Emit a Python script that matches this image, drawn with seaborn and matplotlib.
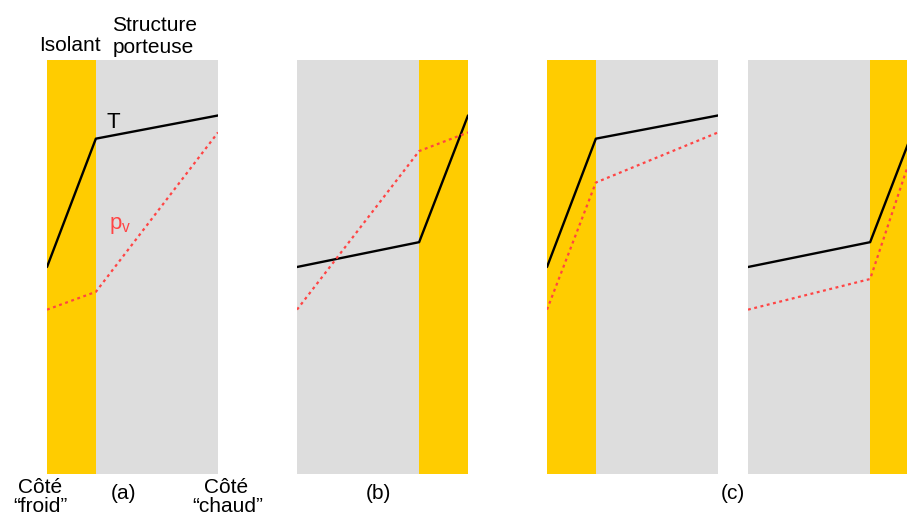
import matplotlib
matplotlib.use("Agg")
import matplotlib.pyplot as plt
import pandas as pd
import seaborn as sns

sns.set_theme(style="white")
plt.rcParams["font.family"] = ["Liberation Sans", "DejaVu Sans"]
plt.rcParams["text.color"] = "black"

# Wall layers (thickness units): insulation 2, load-bearing structure 5
iso_outside = [0, 2, 7]     # insulation on the cold side
iso_inside = [0, 5, 7]      # insulation on the warm side

temp_a = [50.0, 81.0, 86.6]
pv_a = [39.7, 44.0, 82.5]
temp_b = [50.0, 56.0, 86.6]
pv_b = [39.7, 78.0, 82.5]
temp_c = [50.0, 81.0, 86.6]
pv_c = [39.7, 70.4, 82.5]
temp_d = [50.0, 56.0, 86.6]
pv_d = [39.7, 47.1, 82.5]

panels = [
    (iso_outside, (0, 2), temp_a, pv_a),
    (iso_inside, (5, 7), temp_b, pv_b),
    (iso_outside, (0, 2), temp_c, pv_c),
    (iso_inside, (5, 7), temp_d, pv_d),
]

W, H = 907, 518
fig = plt.figure(figsize=(W / 100, H / 100), dpi=100)
fig.patch.set_facecolor("white")

YELLOW = "#FFCC00"
GREY = "#DDDDDD"
RED = "#FF4444"

lefts = [47, 297, 547, 748]
for left, (xs, iso, temp, pv) in zip(lefts, panels):
    ax = fig.add_axes([left / W, (H - 474) / H, 171 / W, 414 / H])
    ax.axvspan(0, 7, color=GREY, lw=0)
    ax.axvspan(iso[0], iso[1], color=YELLOW, lw=0)
    df = pd.DataFrame({"x": xs, "T": temp, "pv": pv})
    sns.lineplot(data=df, x="x", y="T", ax=ax, color="black", lw=1.7,
                 sort=False)
    sns.lineplot(data=df, x="x", y="pv", ax=ax, color=RED, lw=1.6,
                 sort=False, linestyle=(0, (1.3, 1.6)))
    ax.set_xlim(0, 7)
    ax.set_ylim(0, 100)
    ax.set_axis_off()


def label(x, y, s, **kw):
    """Place text with its baseline at pixel row y."""
    kw.setdefault("fontsize", 15)
    kw.setdefault("ha", "center")
    kw.setdefault("va", "baseline")
    kw.setdefault("color", "black")
    fig.text(x / W, 1 - y / H, s, **kw)


label(70, 51, "Isolant")
label(155, 31, "Structure")
label(153, 53, "porteuse")
label(113, 128, "T", fontsize=16)
label(120, 229, r"$\mathregular{p_v}$", color=RED, fontsize=16)
label(40, 493, "Côté")
label(40, 512, "“froid”")
label(123, 499, "(a)")
label(226, 493, "Côté")
label(228, 512, "“chaud”")
label(378, 499, "(b)")
label(733, 499, "(c)")

fig.savefig("out.png", dpi=100)
